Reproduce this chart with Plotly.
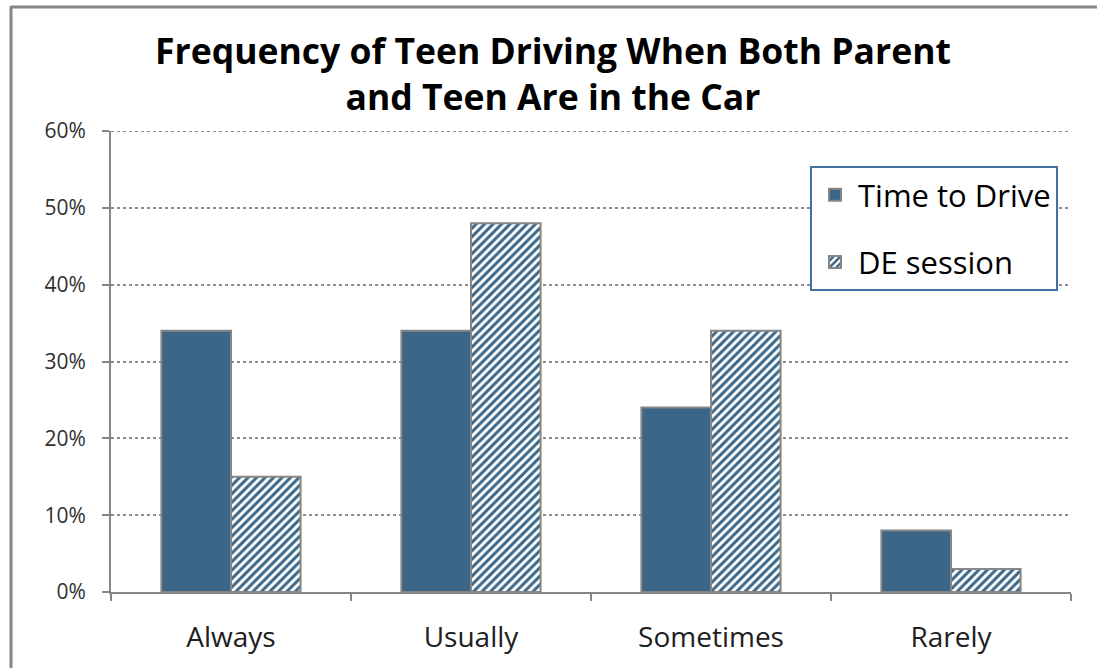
import plotly.graph_objects as go

categories = ["Always", "Usually", "Sometimes", "Rarely"]
time_to_drive = [34, 34, 24, 8]
de_session = [15, 48, 34, 3]
y_ticks = [0, 10, 20, 30, 40, 50, 60]
y_tick_labels = ["0%", "10%", "20%", "30%", "40%", "50%", "60%"]

BLUE = "#3b6687"
GREY = "#868686"

fig = go.Figure()
fig.add_trace(go.Bar(
    x=categories, y=time_to_drive, name="Time to Drive",
    marker=dict(color=BLUE, line=dict(color=GREY, width=2)),
    legendgroup="a",
))
fig.add_trace(go.Bar(
    x=categories, y=de_session, name="DE session",
    marker=dict(color="white", line=dict(color=GREY, width=2),
                pattern=dict(shape="/", fgcolor=BLUE, bgcolor="white",
                             size=6, solidity=0.5, fillmode="replace")),
    legendgroup="b",
))

L, R, T, B = 111, 26, 131, 76
W, H = 1097, 668
pw, ph = W - L - R, H - T - B

def px(x):
    return (x - L) / pw

def py(y):
    return (H - B - y) / ph

fig.update_layout(
    width=W, height=H,
    margin=dict(l=L, r=R, t=T, b=B),
    paper_bgcolor="white", plot_bgcolor="white",
    barmode="group", bargap=0.42, bargroupgap=0,
    font=dict(family="Open Sans, sans-serif", color="#404040"),
    title=dict(
        text="<b>Frequency of Teen Driving When Both Parent<br>and Teen Are in the Car</b>",
        x=553 / W, xref="container", xanchor="center",
        y=1 - 64 / H, yref="container", yanchor="middle",
        font=dict(size=35.5, color="black", family="Open Sans, sans-serif"),
    ),
    legend=dict(
        x=px(810), y=py(166), xanchor="left", yanchor="top",
        bordercolor="#41719c", borderwidth=2, bgcolor="white",
        font=dict(size=31, color="black"),
        traceorder="grouped", tracegroupgap=24,
        itemwidth=36,
    ),
    showlegend=True,
    shapes=[
        dict(type="line", xref="paper", yref="y",
             x0=0, x1=1, y0=60, y1=60, layer="below",
             line=dict(color="#8c8c8c", width=2, dash="dot")),
        dict(type="line", xref="paper", yref="paper",
             x0=px(11), x1=px(11), y0=py(6), y1=py(700),
             line=dict(color=GREY, width=3)),
        dict(type="line", xref="paper", yref="paper",
             x0=px(11), x1=px(1200), y0=py(7), y1=py(7),
             line=dict(color=GREY, width=3)),
    ],
)

fig.update_xaxes(
    showline=True, linecolor=GREY, linewidth=2,
    ticks="outside", tickson="boundaries", ticklen=7, tickcolor=GREY, tickwidth=2,
    tickfont=dict(size=28, color="#202020"),
    ticklabelstandoff=19,
    showgrid=False,
)
fig.update_yaxes(
    range=[0, 60], tickvals=y_ticks, ticktext=y_tick_labels,
    showline=True, linecolor=GREY, linewidth=2,
    ticks="outside", ticklen=7, tickcolor=GREY, tickwidth=2,
    tickfont=dict(size=21, color="#303030"),
    ticklabelstandoff=12,
    showgrid=True, gridcolor="#8c8c8c", gridwidth=2, griddash="dot",
    zeroline=False,
)

fig.write_html("out.html", config={"displayModeBar": False},
               post_script="document.body.style.margin='0px';")
